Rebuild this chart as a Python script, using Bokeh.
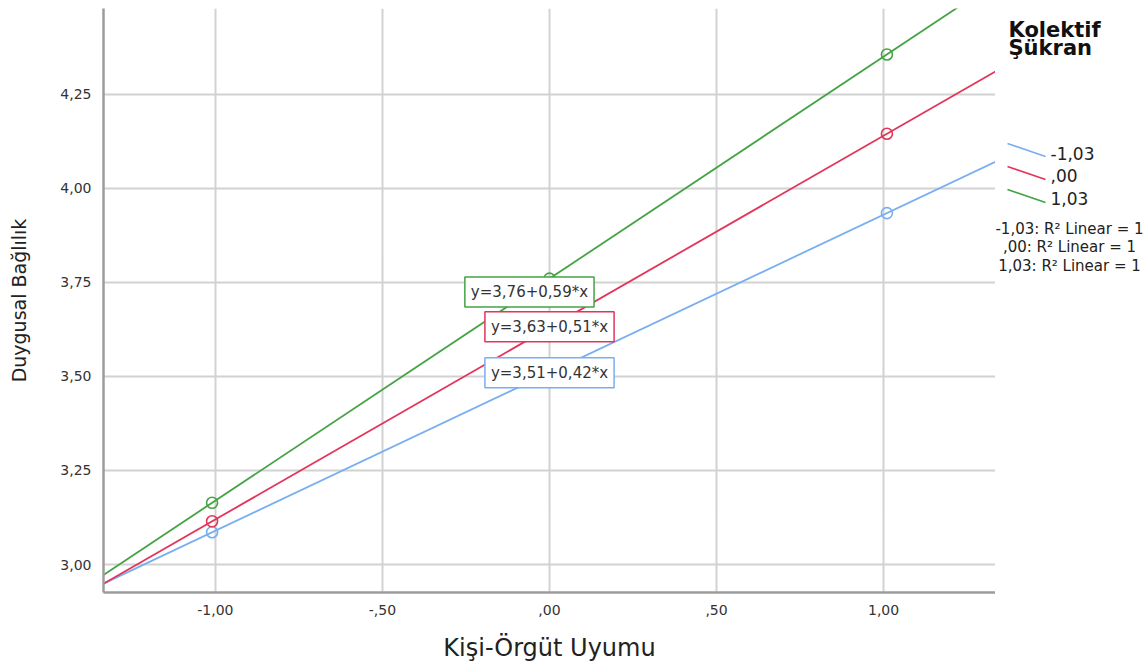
from bokeh.plotting import figure
from bokeh.models import Range1d, FixedTicker, Label
from bokeh.layouts import row
from bokeh.embed import file_html
from bokeh.resources import INLINE

# ---- data ----
groups = ["-1,03", ",00", "1,03"]
intercepts = [3.51, 3.63, 3.76]
slopes = [0.42, 0.51, 0.59]
point_x = [-1.01, 0.0, 1.01]
colors = ["#79aef0", "#e2355b", "#45a346"]
r2_labels = ["-1,03: R² Linear = 1", ",00: R² Linear = 1", "1,03: R² Linear = 1"]

x_ticks = [-1.0, -0.5, 0.0, 0.5, 1.0]
x_tick_labels = ["-1,00", "-,50", ",00", ",50", "1,00"]
y_ticks = [3.0, 3.25, 3.5, 3.75, 4.0, 4.25]
y_tick_labels = ["3,00", "3,25", "3,50", "3,75", "4,00", "4,25"]

x_title = "Kişi-Örgüt Uyumu"
y_title = "Duygusal Bağlılık"
legend_title = ["Kolektif", "Şükran"]

FONT = "DejaVu Sans"
XMIN, XMAX = -1.335, 1.335
YMIN, YMAX = 2.9257, 4.478
H = 664
TOP, BOTTOM = 8, 72

p = figure(width=995, height=H, x_range=Range1d(XMIN, XMAX), y_range=Range1d(YMIN, YMAX),
           toolbar_location=None, output_backend="svg",
           min_border_left=103, min_border_right=0, min_border_top=TOP, min_border_bottom=BOTTOM)
p.outline_line_color = None
p.background_fill_color = "white"

for ax, ticks, labels in ((p.xaxis[0], x_ticks, x_tick_labels), (p.yaxis[0], y_ticks, y_tick_labels)):
    ax.ticker = FixedTicker(ticks=ticks)
    ax.major_label_overrides = {t: l for t, l in zip(ticks, labels)}
    ax.major_tick_line_color = None
    ax.minor_tick_line_color = None
    ax.major_tick_out = 0
    ax.major_tick_in = 0
    ax.axis_line_color = "#9c9c9c"
    ax.axis_line_width = 2.5
    ax.major_label_text_font = FONT
    ax.major_label_text_font_size = "14px"
    ax.major_label_text_color = "#333333"
    ax.axis_label_text_font = FONT
    ax.axis_label_text_font_style = "normal"
    ax.axis_label_text_color = "#222222"

p.xaxis[0].major_label_standoff = 12
p.yaxis[0].major_label_standoff = 12
p.xaxis[0].axis_label = x_title
p.xaxis[0].axis_label_text_font_size = "24px"
p.xaxis[0].axis_label_standoff = 16
p.yaxis[0].axis_label = y_title
p.yaxis[0].axis_label_text_font_size = "19px"
p.yaxis[0].axis_label_standoff = 27

p.xgrid.ticker = FixedTicker(ticks=x_ticks)
p.ygrid.ticker = FixedTicker(ticks=y_ticks)
p.grid.grid_line_color = "#d2d2d2"
p.grid.grid_line_width = 2

for a, b, c in zip(intercepts, slopes, colors):
    p.line(x=[XMIN, XMAX], y=[a + b * XMIN, a + b * XMAX], line_color=c, line_width=1.8)
    p.scatter(x=point_x, y=[a + b * x for x in point_x], marker="circle", size=11,
              fill_color=None, line_color=c, line_width=1.6)

# equation boxes
eq_offsets = [(0.0, 0.0), (0.0, 0.002), (-0.06, -0.0355)]
for (a, b, c), (dx, dy) in zip(zip(intercepts, slopes, colors), eq_offsets):
    txt = ("y=%.2f+%.2f*x" % (a, b)).replace(".", ",")
    p.add_layout(Label(x=0.0 + dx, y=a + dy, text=txt, text_align="center", text_baseline="middle",
                       text_font=FONT, text_font_size="15px", text_color="#333333",
                       border_line_color=c, border_line_width=1.5,
                       background_fill_color="white", padding=6))

# ---- legend panel (frame aligned with main frame: page y == data y) ----
leg = figure(width=152, height=H, x_range=Range1d(0, 152), y_range=Range1d(H - BOTTOM, TOP),
             toolbar_location=None, output_backend="svg", x_axis_type=None, y_axis_type=None,
             min_border_left=0, min_border_right=0, min_border_top=TOP, min_border_bottom=BOTTOM)
leg.outline_line_color = None
leg.grid.visible = False

for i, t in enumerate(legend_title):
    leg.add_layout(Label(x=13, y=29.5 + 18 * i, text=t, text_font=FONT, text_font_size="21px",
                         text_font_style="bold", text_color="#111111", text_baseline="middle"))

for i, (g, c) in enumerate(zip(groups, colors)):
    y0 = 143 + 23 * i
    leg.line(x=[12, 50], y=[y0, y0 + 13], line_color=c, line_width=1.8)
    leg.add_layout(Label(x=55, y=152.5 + 22.5 * i, text=g, text_font=FONT, text_font_size="17px",
                         text_color="#222222", text_baseline="middle"))

for i, t in enumerate(r2_labels):
    leg.add_layout(Label(x=74, y=228 + 18.5 * i, text=t, text_font=FONT, text_font_size="15px",
                         text_color="#222222", text_align="center", text_baseline="middle"))

layout = row(p, leg)
open("out.html", "w").write(file_html(layout, INLINE))
